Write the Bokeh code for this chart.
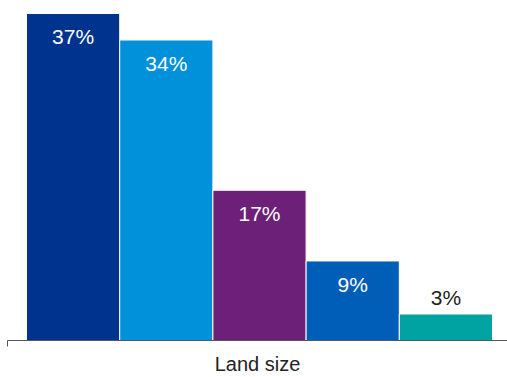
from bokeh.plotting import figure
from bokeh.models import Range1d, FixedTicker, ColumnDataSource, LabelSet
from bokeh.core.properties import value
from bokeh.embed import file_html
from bokeh.resources import INLINE

categories = ["A", "B", "C", "D", "E"]
values = [37, 34, 17, 9, 3]
labels = ["37%", "34%", "17%", "9%", "3%"]
colors = ["#00338D", "#0091DA", "#6D2077", "#005EB8", "#00A3A1"]
axis_title = "Land size"

xs = [i + 1 for i in range(len(values))]
X0, X1 = 0.296, 5.661

inside = [i for i, v in enumerate(values) if v >= 5]
outside = [i for i, v in enumerate(values) if v < 5]

src = ColumnDataSource(dict(x=xs, top=values, color=colors, label=labels))
src_in = ColumnDataSource(dict(x=[xs[i] for i in inside], y=[values[i] for i in inside],
                               label=[labels[i] for i in inside]))
src_out = ColumnDataSource(dict(x=[xs[i] for i in outside], y=[values[i] for i in outside],
                                label=[labels[i] for i in outside]))

p = figure(width=507, height=377, output_backend="svg", toolbar_location=None,
           x_range=Range1d(X0, X1), y_range=Range1d(0, 38.47),
           min_border_left=7, min_border_right=0, min_border_top=0, min_border_bottom=36,
           y_axis_location=None)
p.outline_line_color = None
p.grid.visible = False
p.background_fill_color = "white"
p.border_fill_color = "white"

p.vbar(x="x", top="top", width=1.0, bottom=0, source=src, fill_color="color",
       line_color="white", line_width=1)

font = "Liberation Sans"
p.add_layout(LabelSet(x="x", y="y", text="label", source=src_in, text_align="center",
                      text_baseline="top", y_offset=-12, text_color="white",
                      text_font=value(font), text_font_size="21px"))
p.add_layout(LabelSet(x="x", y="y", text="label", source=src_out, text_align="center",
                      text_baseline="alphabetic", y_offset=9, text_color="#222222",
                      text_font=value(font), text_font_size="21px"))

ax = p.xaxis[0]
ax.ticker = FixedTicker(ticks=[X0])
ax.minor_tick_line_color = None
ax.major_tick_out = 6
ax.major_tick_in = 0
ax.major_tick_line_color = "#555555"
ax.axis_line_color = "#555555"
ax.major_label_overrides = {X0: ""}
ax.major_label_standoff = 0
ax.axis_label = axis_title
ax.axis_label_standoff = 6
ax.axis_label_text_font = font
ax.axis_label_text_font_size = "20px"
ax.axis_label_text_font_style = "normal"
ax.axis_label_text_color = "#222222"

open("out.html", "w").write(file_html(p, INLINE))
